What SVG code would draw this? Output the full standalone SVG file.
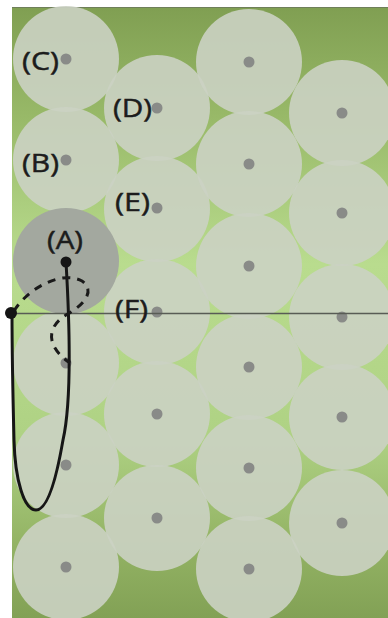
<svg xmlns="http://www.w3.org/2000/svg" width="388" height="618" viewBox="0 0 388 618">
<defs>
<linearGradient id="bg" x1="0" y1="0" x2="0" y2="1">
<stop offset="0" stop-color="#809f52"/>
<stop offset="0.18" stop-color="#98b968"/>
<stop offset="0.42" stop-color="#b9dc8e"/>
<stop offset="0.7" stop-color="#afd284"/>
<stop offset="0.88" stop-color="#93b364"/>
<stop offset="1" stop-color="#82a155"/>
</linearGradient>
<style>
.c{fill:#cbd1c3;fill-opacity:0.9}
.d{fill:#898b88}
.lbl{font-family:"Open Sans","DejaVu Sans",sans-serif;font-size:26px;fill:#1c1c1c;stroke:#1c1c1c;stroke-width:0.5}
.solid{fill:none;stroke:#161616;stroke-width:3;stroke-linecap:round}
.dash{fill:none;stroke:#1a1a1a;stroke-width:3;stroke-dasharray:8 7}
</style>
</defs>
<rect x="0" y="0" width="388" height="618" fill="#ffffff"/>
<rect x="12" y="7" width="376" height="611" fill="url(#bg)"/>
<line x1="12" y1="7.5" x2="388" y2="7.5" stroke="#6f7f5a" stroke-width="1"/>
<g id="circles">
<circle class="c" cx="66" cy="59" r="53"/>
<circle class="c" cx="66" cy="160" r="53"/>
<circle class="c" cx="66" cy="363" r="53"/>
<circle class="c" cx="66" cy="465" r="53"/>
<circle class="c" cx="66" cy="567" r="53"/>
<circle class="c" cx="157" cy="108" r="53"/>
<circle class="c" cx="157" cy="209" r="53"/>
<circle class="c" cx="157" cy="312" r="53"/>
<circle class="c" cx="157" cy="414" r="53"/>
<circle class="c" cx="157" cy="518" r="53"/>
<circle class="c" cx="249" cy="62" r="53"/>
<circle class="c" cx="249" cy="164" r="53"/>
<circle class="c" cx="249" cy="266" r="53"/>
<circle class="c" cx="249" cy="367" r="53"/>
<circle class="c" cx="249" cy="468" r="53"/>
<circle class="c" cx="249" cy="569" r="53"/>
<circle class="c" cx="342" cy="113" r="53"/>
<circle class="c" cx="342" cy="213" r="53"/>
<circle class="c" cx="342" cy="317" r="53"/>
<circle class="c" cx="342" cy="417" r="53"/>
<circle class="c" cx="342" cy="523" r="53"/>
</g>
<g id="A-circle"><circle cx="66" cy="261" r="53" fill="#a3a89f"/></g>
<g id="dots">
<circle class="d" cx="66" cy="59" r="5.5"/>
<circle class="d" cx="66" cy="160" r="5.5"/>
<circle class="d" cx="66" cy="363" r="5.5"/>
<circle class="d" cx="66" cy="465" r="5.5"/>
<circle class="d" cx="66" cy="567" r="5.5"/>
<circle class="d" cx="157" cy="108" r="5.5"/>
<circle class="d" cx="157" cy="208" r="5.5"/>
<circle class="d" cx="157" cy="312" r="5.5"/>
<circle class="d" cx="157" cy="414" r="5.5"/>
<circle class="d" cx="157" cy="518" r="5.5"/>
<circle class="d" cx="249" cy="62" r="5.5"/>
<circle class="d" cx="249" cy="164" r="5.5"/>
<circle class="d" cx="249" cy="266" r="5.5"/>
<circle class="d" cx="249" cy="367" r="5.5"/>
<circle class="d" cx="249" cy="468" r="5.5"/>
<circle class="d" cx="249" cy="569" r="5.5"/>
<circle class="d" cx="342" cy="113" r="5.5"/>
<circle class="d" cx="342" cy="213" r="5.5"/>
<circle class="d" cx="342" cy="317" r="5.5"/>
<circle class="d" cx="342" cy="417" r="5.5"/>
<circle class="d" cx="342" cy="523" r="5.5"/>
</g>
<g id="connectors">
<line x1="12" y1="313.5" x2="388" y2="313.5" stroke="#585c55" stroke-width="1.6"/>
<path class="solid" d="M66,262 C70,330 72,400 63,440 C57,475 48,510 36,510 C24,510 15,480 14,440 C13,400 12,340 12,313"/>
<path class="dash" d="M14,311 C28,288 62,270 82,281 C95,290 86,304 66,315 C48,326 44,345 70,363"/>
</g>
<g id="markers">
<circle cx="66" cy="262" r="5.5" fill="#151515"/>
<circle cx="11" cy="313" r="6" fill="#151515"/>
</g>
<g id="labels">
<text class="lbl" x="22" y="70" textLength="37" lengthAdjust="spacingAndGlyphs">(C)</text>
<text class="lbl" x="113" y="116.5" textLength="39" lengthAdjust="spacingAndGlyphs">(D)</text>
<text class="lbl" x="22" y="172" textLength="37" lengthAdjust="spacingAndGlyphs">(B)</text>
<text class="lbl" x="115" y="210.5" textLength="35" lengthAdjust="spacingAndGlyphs">(E)</text>
<text class="lbl" x="47" y="248.5" textLength="36" lengthAdjust="spacingAndGlyphs">(A)</text>
<text class="lbl" x="115" y="318" textLength="33" lengthAdjust="spacingAndGlyphs">(F)</text>
</g>
</svg>
